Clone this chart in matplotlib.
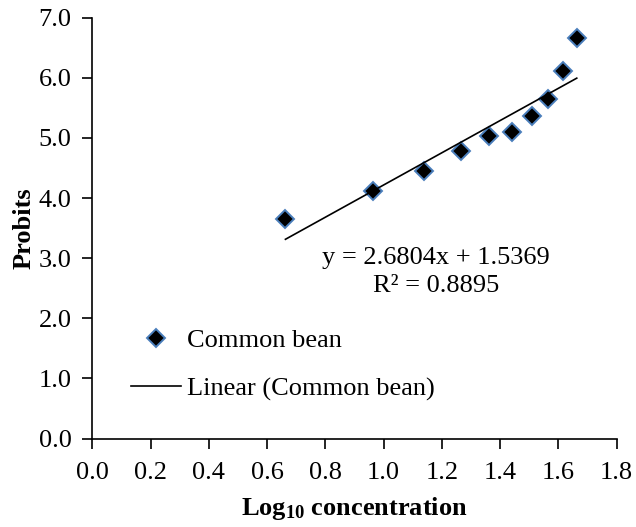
import matplotlib
matplotlib.use("Agg")
import matplotlib.pyplot as plt
import numpy as np

# Log10 concentration vs probit values (common bean)
log_conc = [0.663, 0.964, 1.140, 1.265, 1.362, 1.441, 1.508, 1.566, 1.617, 1.663]
probits = [3.65, 4.12, 4.45, 4.78, 5.03, 5.10, 5.36, 5.64, 6.12, 6.66]

slope = 2.6804
intercept = 1.5369
r2 = 0.8895

plt.rcParams['font.family'] = 'Liberation Serif'
plt.rcParams['mathtext.fontset'] = 'custom'
plt.rcParams['mathtext.rm'] = 'Liberation Serif'
plt.rcParams['mathtext.bf'] = 'Liberation Serif:bold'
plt.rcParams['mathtext.default'] = 'bf'

fs = 19

fig = plt.figure(figsize=(6.36, 5.27), dpi=100)
ax = fig.add_axes([0.1451, 0.1679, 0.8245, 0.7985])

ax.plot(log_conc, probits, 'D', markersize=9.5, markerfacecolor='black',
        markeredgecolor='#4A7EBB', markeredgewidth=1.4, label='Common bean')

xfit = np.array([log_conc[0], log_conc[-1]])
ax.plot(xfit, slope * xfit + intercept, color='black', linewidth=1.2,
        label='Linear (Common bean)')

ax.text(1.18, 2.77, 'y = %.4fx + %.4f\nR² = %.4f' % (slope, intercept, r2),
        fontsize=fs, ha='center', va='center', multialignment='center',
        linespacing=1.3)

ax.set_xlim(0, 1.8)
ax.set_ylim(0, 7)
ax.set_xticks(np.arange(0, 1.81, 0.2))
ax.set_yticks(np.arange(0, 7.01, 1.0))
ax.xaxis.set_major_formatter(matplotlib.ticker.FormatStrFormatter('%.1f'))
ax.yaxis.set_major_formatter(matplotlib.ticker.FormatStrFormatter('%.1f'))
ax.tick_params(labelsize=fs, direction='out', length=7, width=1.2, pad=8)
ax.tick_params(axis='x', pad=10)

for s in ['top', 'right']:
    ax.spines[s].set_visible(False)
for s in ['left', 'bottom']:
    ax.spines[s].set_linewidth(1.2)

ax.set_xlabel('Log$_{10}$ concentration', fontsize=fs, fontweight='bold', labelpad=8)
ax.set_ylabel('Probits', fontsize=fs, fontweight='bold', labelpad=2)

ax.legend(loc='upper left', bbox_to_anchor=(0.073, 0.262), frameon=False,
          fontsize=fs, numpoints=1, handlelength=1.9, handletextpad=0.25,
          labelspacing=0.95, borderpad=0, borderaxespad=0)

fig.savefig('out.png', dpi=100)
